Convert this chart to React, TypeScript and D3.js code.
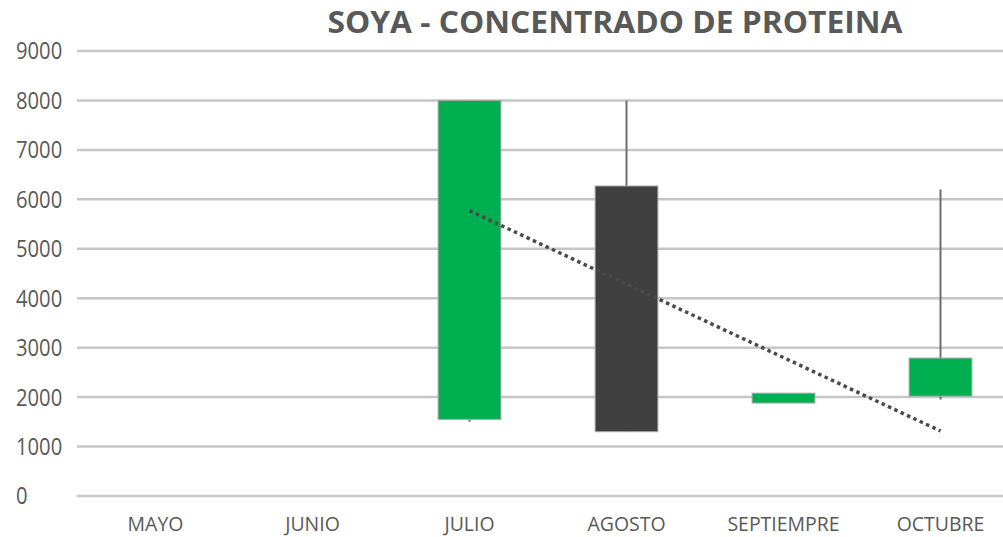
import React from "react";
import * as d3 from "d3";

const categories = ["MAYO", "JUNIO", "JULIO", "AGOSTO", "SEPTIEMPRE", "OCTUBRE"];
const openValues: (number | null)[] = [null, null, 1550, 6270, 1880, 2020];
const highValues: (number | null)[] = [null, null, 8000, 8000, 2080, 6200];
const lowValues: (number | null)[] = [null, null, 1500, 1300, 1880, 1950];
const closeValues: (number | null)[] = [null, null, 8000, 1300, 2080, 2790];
const yTicks = [0, 1000, 2000, 3000, 4000, 5000, 6000, 7000, 8000, 9000];
const title = "SOYA - CONCENTRADO DE PROTEINA";

const W = 1003;
const H = 537;
const plotLeft = 77;
const plotRight = 1019;
const plotTop = 51;
const plotBottom = 496;

export default function App() {
  const x = d3.scaleBand<string>().domain(categories).range([plotLeft, plotRight]).paddingInner(0).paddingOuter(0);
  const y = d3.scaleLinear().domain([0, 9000]).range([plotBottom, plotTop]);
  const bw = x.bandwidth() * 0.4;
  const cx = (c: string) => (x(c) as number) + x.bandwidth() / 2;

  // linear trendline over closes (Excel-style)
  const pts = categories
    .map((c, i) => ({ i: i + 1, v: closeValues[i] }))
    .filter((p) => p.v !== null) as { i: number; v: number }[];
  const mx = d3.mean(pts, (p) => p.i) as number;
  const my = d3.mean(pts, (p) => p.v) as number;
  const sxy = d3.sum(pts, (p) => (p.i - mx) * (p.v - my));
  const sxx = d3.sum(pts, (p) => (p.i - mx) * (p.i - mx));
  const slope = sxy / sxx;
  const icpt = my - slope * mx;
  const first = pts[0];
  const last = pts[pts.length - 1];
  const trendPath = d3.line<{ i: number; v: number }>()
    .x((p) => cx(categories[p.i - 1]))
    .y((p) => y(p.v))([
      { i: first.i, v: icpt + slope * first.i },
      { i: last.i, v: icpt + slope * last.i },
    ]);

  const font = "'Open Sans', 'DejaVu Sans', sans-serif";

  return (
    <svg width={W} height={H} style={{ position: "absolute", left: 0, top: 0, background: "#fff" }}>
      <rect width={W} height={H} fill="#fff" />
      <text x={615} y={33} textAnchor="middle" fontFamily={font} fontWeight={700} fontSize={31} fill="#595959" textLength={575} lengthAdjust="spacingAndGlyphs">
        {title}
      </text>
      {yTicks.map((t) => (
        <g key={t}>
          <line x1={plotLeft} x2={W} y1={y(t)} y2={y(t)} stroke="#c6c6c6" strokeWidth={2.5} />
          <text transform={`translate(16,${y(t)}) scale(0.86,1)`} dy="0.36em" textAnchor="start" fontFamily={font} fontSize={23.5} fill="#595959">
            {t}
          </text>
        </g>
      ))}
      {categories.map((c) => (
        <text key={c} transform={`translate(${cx(c)},531) scale(0.95,1)`} textAnchor="middle" fontFamily={font} fontSize={20.5} fill="#595959">
          {c}
        </text>
      ))}
      {categories.map((c, i) => {
        const o = openValues[i], h = highValues[i], l = lowValues[i], cl = closeValues[i];
        if (o === null || h === null || l === null || cl === null) return null;
        const up = cl >= o;
        const top = Math.max(o, cl), bot = Math.min(o, cl);
        return (
          <g key={c}>
            <line x1={cx(c)} x2={cx(c)} y1={y(h)} y2={y(l)} stroke="#6e6e6e" strokeWidth={2} />
            <rect
              x={cx(c) - bw / 2}
              y={y(top)}
              width={bw}
              height={Math.max(1, y(bot) - y(top))}
              fill={up ? "#00b050" : "#404040"}
              stroke="#a8a8a8"
              strokeWidth={1}
            />
          </g>
        );
      })}
      <path d={trendPath ?? ""} fill="none" stroke="#4a4a4a" strokeWidth={3.5} strokeDasharray="3.5 3.5" />
    </svg>
  );
}
